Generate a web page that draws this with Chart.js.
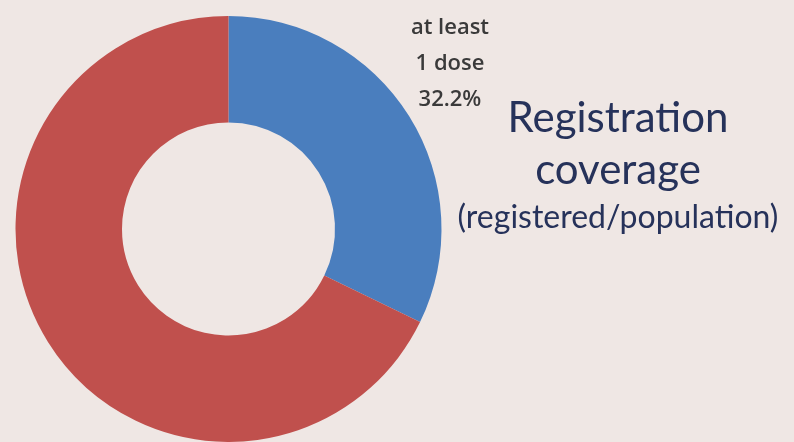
<!DOCTYPE html>
<html>
<head>
<meta charset="utf-8">
<script src="https://cdn.jsdelivr.net/npm/chart.js@4"></script>
<style>
  html, body { margin: 0; padding: 0; background: #efe7e4; }
  #wrap { position: relative; width: 794px; height: 442px; overflow: hidden; background: #efe7e4; }
  canvas { position: absolute; left: 0; top: 0; }
  .lbl { position: absolute; text-align: center; white-space: nowrap; }
  .small { font-family: "Open Sans", sans-serif; font-size: 22px; line-height: 36px; color: #3a3a3a; font-weight: 600; }
  .title { font-family: Lato, sans-serif; font-size: 42px; line-height: 50px; color: #26325a; }
  .sub { font-family: Lato, sans-serif; font-size: 32px; line-height: 38px; color: #26325a; }
</style>
</head>
<body>
<div id="wrap">
  <canvas id="c" width="794" height="442"></canvas>
  <div id="dataLabel" class="lbl small" style="left:380px; top:6.5px; width:140px;"></div>
  <div id="t1" class="lbl title" style="left:468px; top:90.5px; width:300px;"></div>
  <div id="t2" class="lbl title" style="left:468px; top:142.5px; width:300px;"></div>
  <div id="t3" class="lbl sub" style="left:448px; top:196.6px; width:340px;"></div>
</div>
<script>
const categories = ["at least 1 dose", "not registered"];
const values = [32.2, 67.8];
const colors = ["#4a7ebe", "#c0504d"];
const labelLines = ["at least", "1 dose"];
const titleLines = ["Registration", "coverage", "(registered/population)"];

document.getElementById("dataLabel").innerHTML =
  labelLines.concat([values[0].toFixed(1) + "%"]).map(s => "<div>" + s + "</div>").join("");
document.getElementById("t1").textContent = titleLines[0];
document.getElementById("t2").textContent = titleLines[1];
document.getElementById("t3").textContent = titleLines[2];

new Chart(document.getElementById("c"), {
  type: "doughnut",
  data: {
    labels: categories,
    datasets: [{
      data: values,
      backgroundColor: colors,
      borderWidth: 0,
      hoverOffset: 0
    }]
  },
  options: {
    responsive: false,
    devicePixelRatio: 1,
    animation: false,
    cutout: "50%",
    rotation: 0,
    layout: { padding: { left: 15.5, top: 16, right: 352.5, bottom: 0 } },
    plugins: {
      legend: { display: false },
      tooltip: { enabled: false },
      title: { display: false }
    }
  }
});
</script>
</body>
</html>
